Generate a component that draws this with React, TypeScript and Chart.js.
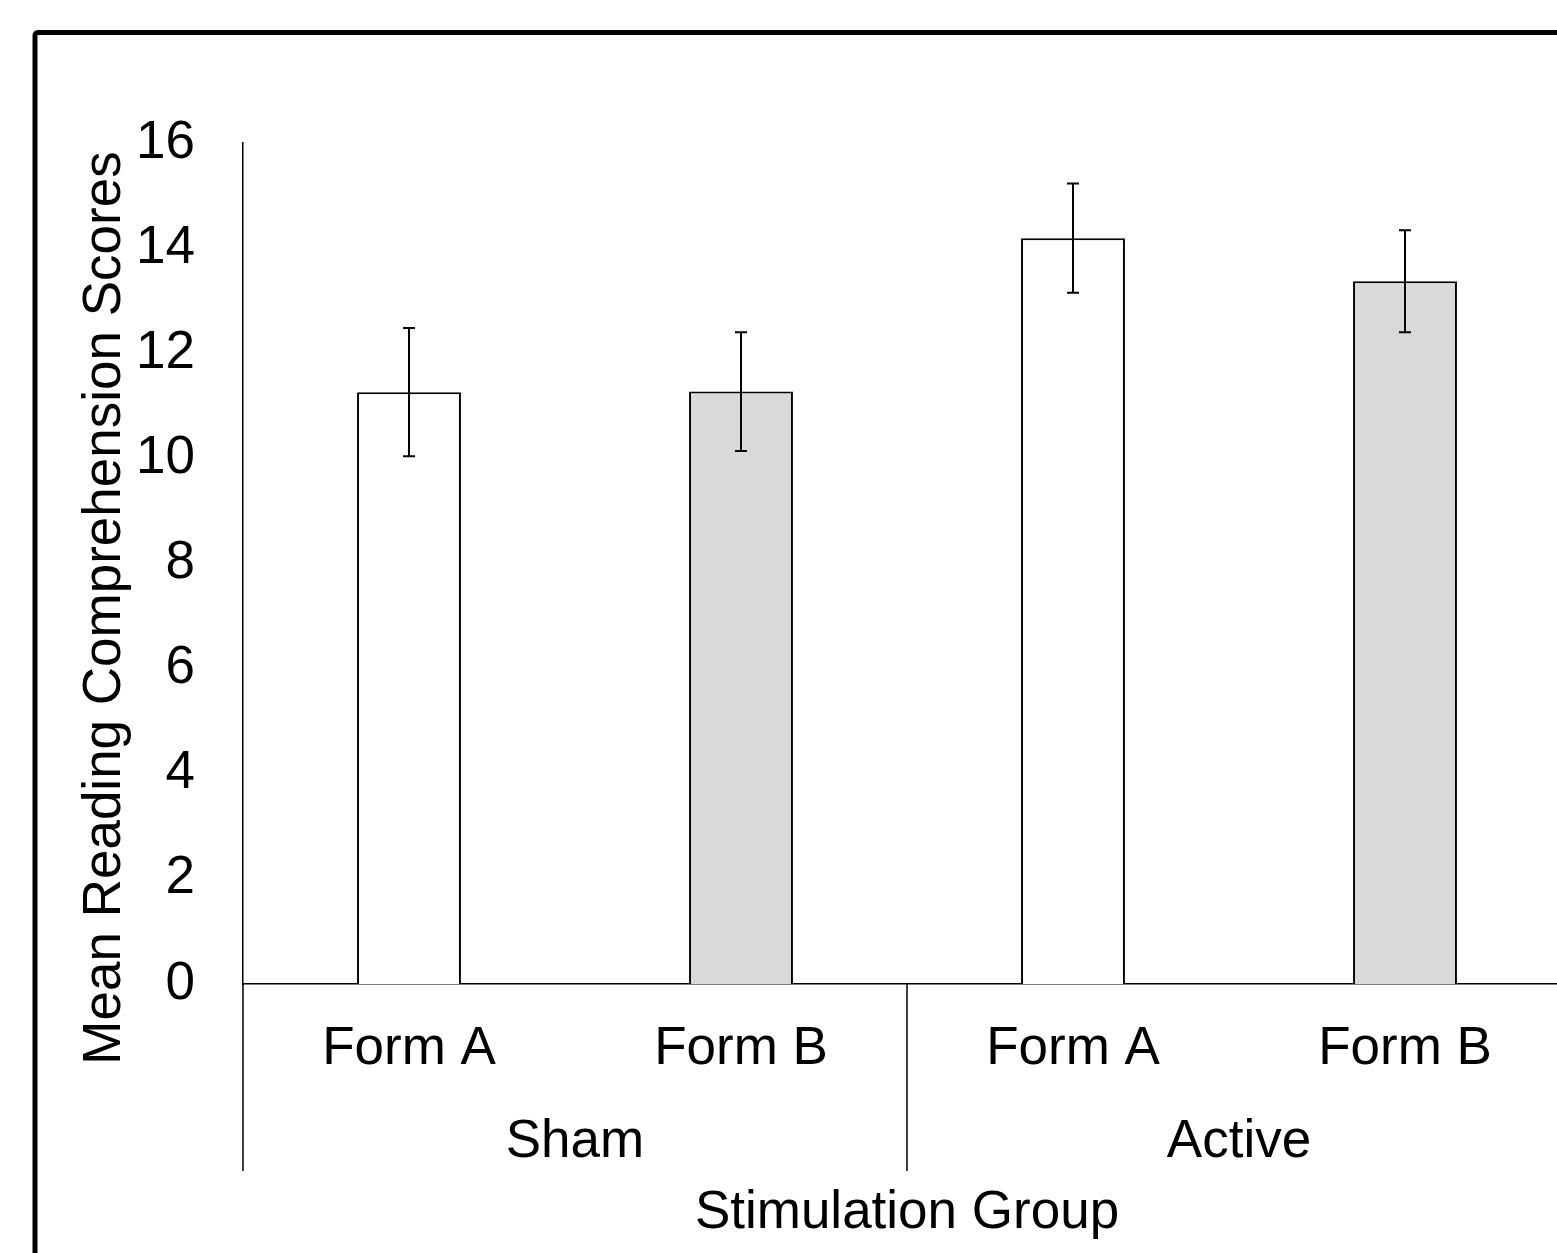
import React, { useEffect, useRef } from "react";
import { Chart, registerables } from "chart.js";

Chart.register(...registerables);

const forms = ["Form A", "Form B", "Form A", "Form B"];
const groups = ["Sham", "Active"];
const means = [11.26, 11.27, 14.19, 13.37];
const errors = [1.22, 1.13, 1.04, 0.97];
const barColors = ["#ffffff", "#d9d9d9", "#ffffff", "#d9d9d9"];
const yMin = 0;
const yMax = 16;
const yStep = 2;
const yTitle = "Mean Reading Comprehension Scores";
const xTitle = "Stimulation Group";

const FONT = "'Liberation Sans', Arial, sans-serif";
const FS = 53;

const decorPlugin = {
  id: "decor",
  beforeDraw(chart: any) {
    const ctx = chart.ctx;
    ctx.save();
    ctx.fillStyle = "#ffffff";
    ctx.fillRect(0, 0, chart.width, chart.height);
    ctx.strokeStyle = "#000000";
    ctx.lineWidth = 5;
    ctx.beginPath();
    if (ctx.roundRect) ctx.roundRect(35, 32.5, 1800, 1600, 3);
    else ctx.rect(35, 32.5, 1800, 1600);
    ctx.stroke();
    ctx.restore();
  },
  afterDatasetsDraw(chart: any) {
    const ctx = chart.ctx;
    const y = chart.scales.y;
    const meta = chart.getDatasetMeta(0);
    ctx.save();
    ctx.strokeStyle = "#000000";
    ctx.lineWidth = 2;
    meta.data.forEach((bar: any, i: number) => {
      const x = bar.x;
      const top = y.getPixelForValue(means[i] + errors[i]);
      const bot = y.getPixelForValue(means[i] - errors[i]);
      ctx.beginPath();
      ctx.moveTo(x, top);
      ctx.lineTo(x, bot);
      ctx.moveTo(x - 6, top);
      ctx.lineTo(x + 6, top);
      ctx.moveTo(x - 6, bot);
      ctx.lineTo(x + 6, bot);
      ctx.stroke();
    });
    ctx.restore();
  },
  afterDraw(chart: any) {
    const ctx = chart.ctx;
    const xs = chart.scales.x;
    const area = chart.chartArea;
    ctx.save();
    ctx.strokeStyle = "#000000";
    ctx.lineWidth = 1.5;
    const extBottom = area.bottom + 187;
    ctx.beginPath();
    ctx.moveTo(area.left, area.bottom);
    ctx.lineTo(area.left, extBottom);
    const mid = xs.getPixelForValue(1.5);
    ctx.moveTo(mid, area.bottom);
    ctx.lineTo(mid, extBottom);
    ctx.stroke();

    ctx.fillStyle = "#000000";
    ctx.font = `${FS}px ${FONT}`;
    ctx.textAlign = "center";
    ctx.textBaseline = "middle";
    groups.forEach((g, i) => {
      const gx = xs.getPixelForValue(i * 2 + 0.5);
      ctx.fillText(g, gx, area.bottom + 158);
    });
    ctx.fillText(xTitle, (area.left + area.right) / 2, area.bottom + 229);

    ctx.save();
    ctx.translate(120, 608);
    ctx.rotate(-Math.PI / 2);
    ctx.textBaseline = "alphabetic";
    ctx.fillText(yTitle, 0, 0);
    ctx.restore();
    ctx.restore();
  },
};

export default function App() {
  const ref = useRef<HTMLCanvasElement | null>(null);
  useEffect(() => {
    if (!ref.current) return;
    const chart = new Chart(ref.current, {
      type: "bar",
      data: {
        labels: forms,
        datasets: [
          {
            data: means,
            backgroundColor: barColors,
            borderColor: "#000000",
            borderWidth: 2,
            categoryPercentage: 1,
            barPercentage: 0.313,
          },
        ],
      },
      options: {
        responsive: false,
        animation: false,
        devicePixelRatio: 1,
        layout: { padding: { left: 0, top: 143, right: 69, bottom: 0 } },
        plugins: { legend: { display: false }, tooltip: { enabled: false }, title: { display: false } },
        scales: {
          x: {
            grid: { display: false, drawTicks: false },
            border: { display: true, color: "#000000", width: 1.5 },
            ticks: { color: "#000000", font: { family: FONT, size: FS }, padding: 34, maxRotation: 0, autoSkip: false },
            afterFit: (s: any) => {
              s.height = 336;
            },
          },
          y: {
            min: yMin,
            max: yMax,
            grid: { display: false, drawTicks: false },
            border: { display: true, color: "#000000", width: 1.5 },
            ticks: { stepSize: yStep, color: "#000000", font: { family: FONT, size: FS }, padding: 48 },
            afterFit: (s: any) => {
              s.width = 243;
            },
          },
        },
      },
      plugins: [decorPlugin],
    });
    return () => chart.destroy();
  }, []);
  return (
    <div style={{ position: "absolute", left: 0, top: 0, width: 1557, height: 1253, overflow: "hidden", background: "#fff" }}>
      <canvas ref={ref} width={1640} height={1320} style={{ display: "block" }} />
    </div>
  );
}
